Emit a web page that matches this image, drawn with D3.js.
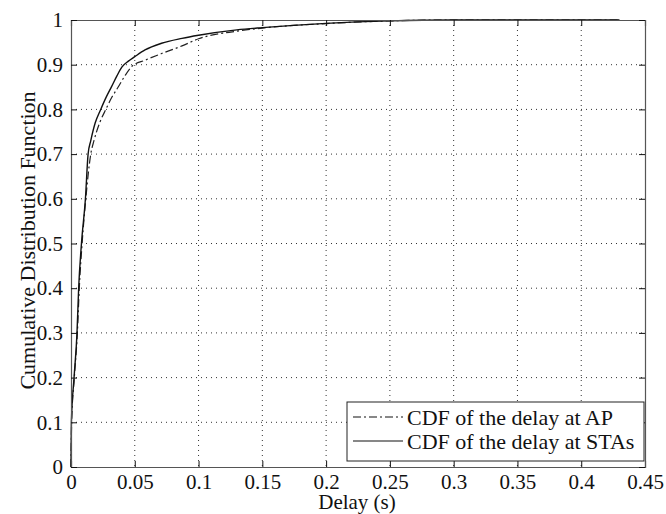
<!DOCTYPE html>
<html>
<head>
<meta charset="utf-8">
<script src="https://cdn.jsdelivr.net/npm/d3@7"></script>
<style>
  body { margin: 0; background: #fff; }
  svg text { font-family: 'Liberation Serif', 'Times New Roman', 'DejaVu Serif', serif; fill: #111; }
</style>
</head>
<body>
<div id="chart-area"></div>
<script>
// delay (s) and CDF values
var staDelay = [0, 0.0003, 0.0024, 0.0047, 0.006, 0.0082, 0.0113, 0.0134, 0.0155, 0.019, 0.0233, 0.0275, 0.0318, 0.036, 0.040, 0.045, 0.05, 0.058, 0.071, 0.087, 0.1, 0.13, 0.15, 0.2, 0.25, 0.3, 0.43];
var staCdf   = [0, 0.1, 0.2, 0.3, 0.4, 0.5, 0.6, 0.7, 0.73, 0.77, 0.8, 0.827, 0.851, 0.875, 0.895, 0.908, 0.918, 0.933, 0.948, 0.959, 0.966, 0.978, 0.983, 0.9925, 0.998, 1, 1];

var apDelay = [0, 0.0005, 0.0026, 0.005, 0.0065, 0.0087, 0.0116, 0.0155, 0.018, 0.0225, 0.0273, 0.032, 0.037, 0.042, 0.048, 0.058, 0.071, 0.087, 0.1, 0.13, 0.15, 0.2, 0.25, 0.3, 0.43];
var apCdf   = [0, 0.1, 0.2, 0.3, 0.4, 0.5, 0.6, 0.7, 0.73, 0.77, 0.8, 0.827, 0.85, 0.874, 0.897, 0.91, 0.925, 0.942, 0.958, 0.975, 0.982, 0.992, 0.998, 1, 1];

var xTicks = [0, 0.05, 0.1, 0.15, 0.2, 0.25, 0.3, 0.35, 0.4, 0.45];
var yTicks = [0, 0.1, 0.2, 0.3, 0.4, 0.5, 0.6, 0.7, 0.8, 0.9, 1];
var legendLabels = ["CDF of the delay at AP", "CDF of the delay at STAs"];

var W = 666, H = 514;
var m = {left: 71, right: 21, top: 20, bottom: 47};
var iw = W - m.left - m.right, ih = H - m.top - m.bottom;
var serif = "'Liberation Serif', 'Times New Roman', 'DejaVu Serif', serif";

var svg = d3.select("#chart-area").append("svg")
    .attr("width", W)
    .attr("height", H);

var g = svg.append("g").attr("transform", "translate(" + m.left + "," + m.top + ")");

var x = d3.scaleLinear().domain([0, 0.45]).range([0, iw]);
var y = d3.scaleLinear().domain([0, 1]).range([ih, 0]);

// dotted grid
g.selectAll(".gx").data(xTicks.slice(1, -1)).enter().append("line")
    .attr("x1", function(d){ return x(d); }).attr("x2", function(d){ return x(d); })
    .attr("y1", 0).attr("y2", ih)
    .attr("stroke", "#333").attr("stroke-width", 1).attr("stroke-dasharray", "1,4");
g.selectAll(".gy").data(yTicks.slice(1, -1)).enter().append("line")
    .attr("x1", 0).attr("x2", iw)
    .attr("y1", function(d){ return y(d); }).attr("y2", function(d){ return y(d); })
    .attr("stroke", "#333").attr("stroke-width", 1).attr("stroke-dasharray", "1,4");

// curves
var line = d3.line()
    .curve(d3.curveMonotoneX)
    .x(function(d){ return x(d[0]); })
    .y(function(d){ return y(d[1]); });

var apData = apDelay.map(function(d, i){ return [d, apCdf[i]]; });
var staData = staDelay.map(function(d, i){ return [d, staCdf[i]]; });

g.append("path").datum(apData).attr("d", line)
    .attr("fill", "none").attr("stroke", "#222").attr("stroke-width", 1.2)
    .attr("stroke-dasharray", "8,3,2,3");
g.append("path").datum(staData).attr("d", line)
    .attr("fill", "none").attr("stroke", "#111").attr("stroke-width", 1.4);

// axes with inward ticks
var fmt = function(d){ return d3.format("")(d); };
var xb = g.append("g").attr("transform", "translate(0," + ih + ")")
    .call(d3.axisBottom(x).tickValues(xTicks).tickSize(-6).tickPadding(7).tickFormat(fmt));
var xt = g.append("g")
    .call(d3.axisTop(x).tickValues(xTicks).tickSize(-6).tickFormat(""));
var yl = g.append("g")
    .call(d3.axisLeft(y).tickValues(yTicks).tickSize(-6).tickPadding(8).tickFormat(fmt));
var yr = g.append("g").attr("transform", "translate(" + iw + ",0)")
    .call(d3.axisRight(y).tickValues(yTicks).tickSize(-6).tickFormat(""));

[xb, xt, yl, yr].forEach(function(a){
    a.attr("font-family", null).attr("font-size", null);
    a.select(".domain").attr("stroke", "#555").attr("stroke-width", 1.2);
    a.selectAll(".tick line").attr("stroke", "#111");
    a.selectAll("text")
        .style("font-family", serif)
        .style("font-size", "21px")
        .attr("fill", "#111");
});

// axis labels
svg.append("text")
    .attr("x", 357).attr("y", 509)
    .attr("text-anchor", "middle")
    .style("font-family", serif).style("font-size", "21px")
    .text("Delay (s)");
svg.append("text")
    .attr("transform", "translate(35,240.5) rotate(-90)")
    .attr("text-anchor", "middle")
    .style("font-family", serif).style("font-size", "22px")
    .text("Cumulative Distribution Function");

// legend
var lg = g.append("g").attr("transform", "translate(" + (347 - m.left) + "," + (402 - m.top) + ")");
lg.append("rect").attr("width", 297).attr("height", 59)
    .attr("fill", "#fff").attr("stroke", "#222").attr("stroke-width", 1);
var rows = lg.selectAll(".row").data(legendLabels).enter().append("g")
    .attr("transform", function(d, i){ return "translate(0," + (15 + i * 24) + ")"; });
rows.append("line")
    .attr("x1", 6).attr("x2", 56).attr("y1", 0).attr("y2", 0)
    .attr("stroke", "#111").attr("stroke-width", 1.2)
    .attr("stroke-dasharray", function(d, i){ return i == 0 ? "8,3,2,3" : null; });
rows.append("text")
    .attr("x", 60).attr("y", 8)
    .style("font-family", serif).style("font-size", "22px")
    .text(function(d){ return d; });
</script>
</body>
</html>
